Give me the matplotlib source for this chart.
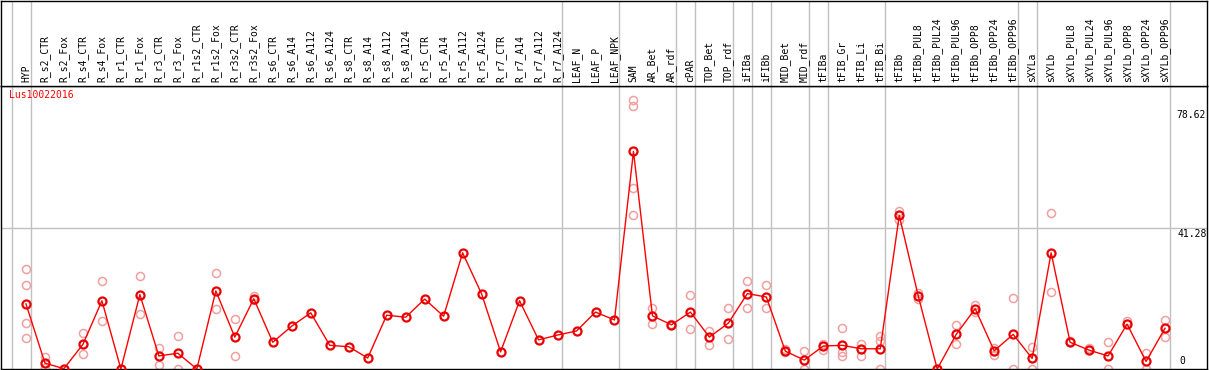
import matplotlib
matplotlib.use("Agg")
import matplotlib.pyplot as plt
import matplotlib.transforms as mtransforms
import numpy as np

labels = ['HYP', 'R_s2_CTR', 'R_s2_Fox', 'R_s4_CTR', 'R_s4_Fox', 'R_r1_CTR', 'R_r1_Fox',
          'R_r3_CTR', 'R_r3_Fox', 'R_r1s2_CTR', 'R_r1s2_Fox', 'R_r3s2_CTR', 'R_r3s2_Fox',
          'R_s6_CTR', 'R_s6_A14', 'R_s6_A112', 'R_s6_A124', 'R_s8_CTR', 'R_s8_A14',
          'R_s8_A112', 'R_s8_A124', 'R_r5_CTR', 'R_r5_A14', 'R_r5_A112', 'R_r5_A124',
          'R_r7_CTR', 'R_r7_A14', 'R_r7_A112', 'R_r7_A124', 'LEAF_N', 'LEAF_P', 'LEAF_NPK',
          'SAM', 'AR_Bet', 'AR_rdf', 'cPAR', 'TOP_Bet', 'TOP_rdf', 'iFIBa', 'iFIBb',
          'MID_Bet', 'MID_rdf', 'tFIBa', 'tFIB_Gr', 'tFIB_Li', 'tFIB_Bi', 'tFIBb',
          'tFIBb_PUL8', 'tFIBb_PUL24', 'tFIBb_PUL96', 'tFIBb_OPP8', 'tFIBb_OPP24',
          'tFIBb_OPP96', 'sXYLa', 'sXYLb', 'sXYLb_PUL8', 'sXYLb_PUL24', 'sXYLb_PUL96',
          'sXYLb_OPP8', 'sXYLb_OPP24', 'sXYLb_OPP96']

means = [19.0, 1.7, 0.1, 7.2, 19.9, 0.0, 21.7, 3.8, 4.6, 0.0, 22.8, 9.3, 20.5,
         7.8, 12.5, 16.4, 6.9, 6.5, 3.2, 15.7, 15.1, 20.4, 15.4, 33.9, 21.9,
         5.0, 19.9, 8.5, 9.9, 11.1, 16.6, 14.3,
         63.5, 15.5, 12.9, 16.6, 9.3, 13.4, 22.0, 21.0, 5.2, 2.6, 6.7, 6.9, 5.9, 5.9,
         44.8, 21.3, 0.0, 10.1, 17.6, 5.3, 10.1, 3.1, 33.9, 7.8, 5.5, 3.8, 13.1, 2.2, 11.9]

replicates = [[29.2, 24.6, 13.4, 9.1], [3.5, 0.3], [], [10.5, 4.3], [25.8, 14.1], [],
              [27.1, 16.0], [6.1, 1.1], [9.6, 0.0], [], [28.1, 17.5], [14.5, 3.8],
              [21.2, 20.2],
              [], [], [], [], [], [], [], [], [], [], [], [], [], [], [], [], [], [], [],
              [78.62, 76.6, 52.9, 44.8], [17.8, 13.1], [13.0, 12.8], [21.6, 11.6],
              [11.1, 7.1], [17.8, 8.7], [25.7, 17.8], [24.5, 17.8], [5.8, 5.0],
              [5.2, 0.0], [7.3, 5.6], [11.9, 5.1, 3.9], [7.3, 3.9], [9.5, 8.1, 0.0],
              [46.0, 43.6], [22.2, 20.5], [], [12.8, 7.2], [18.8, 16.5], [6.2, 4.1],
              [20.7, 0.0], [6.4, 0.0], [45.6, 22.5], [8.3], [6.1], [7.8, 0.0], [13.9],
              [4.6, 0.0], [14.2, 9.3]]

# group separators sit just after these categories
separators = [-1, 0, 28, 31, 34, 35, 37, 38, 39, 41, 42, 45, 52, 53, 60]

gene = 'Lus10022016'
y_max = 82.56
y_mid = 41.28
data_max = 78.62

W, H = 1209, 370
fig = plt.figure(figsize=(W / 100, H / 100), dpi=100)
mono = 'DejaVu Sans Mono'
fs = 7

x = np.arange(len(labels))
xlim = ((1 - 26) / 19, (1208 - 26) / 19)

ax = fig.add_axes([1 / W, 1 / H, 1206 / W, 283 / H])
axh = fig.add_axes([1 / W, 284 / H, 1206 / W, 85.5 / H])

for a in (ax, axh):
    a.set_xlim(*xlim)
    a.set_xticks([])
    a.set_yticks([])
    for s in a.spines.values():
        s.set_color('black')
        s.set_linewidth(1)
    for sep in separators:
        a.axvline(sep + 0.25, color='#c0c0c0', lw=1, zorder=0)

ax.set_ylim(0, y_max)
ax.axhline(y_mid, color='#c0c0c0', lw=1, zorder=0)

for i, reps in enumerate(replicates):
    if reps:
        ax.plot([i] * len(reps), reps, 'o', mfc='none', mec='#f0a0a0', ms=5.8, mew=1.1, zorder=2)

ax.plot(x, means, '-', color='#ff0000', lw=1, zorder=3)
ax.plot(x, means, 'o', mfc='none', mec='#e80000', ms=5.8, mew=1.6, zorder=4)

ax.text(0.007, 0.967, gene, transform=ax.transAxes, color='red', fontsize=fs,
        family=mono, va='center', ha='left')

tr = mtransforms.blended_transform_factory(ax.transAxes, ax.transData)
xr = (1177 - 1) / 1206
ax.text(xr, data_max, '78.62', transform=tr + mtransforms.ScaledTranslation(-1 / 100, -15 / 100, fig.dpi_scale_trans),
        fontsize=fs, family=mono, va='center', ha='left')
ax.text(xr, y_mid, '41.28', transform=tr + mtransforms.ScaledTranslation(0, -1 / 100, fig.dpi_scale_trans),
        fontsize=fs, family=mono, va='top', ha='left', bbox=dict(fc='white', ec='none', pad=0))
ax.text(xr + 2 / 1206, 0, '0', transform=tr + mtransforms.ScaledTranslation(0, 3 / 100, fig.dpi_scale_trans),
        fontsize=fs, family=mono, va='bottom', ha='left')

trh = mtransforms.blended_transform_factory(axh.transData, axh.transAxes)
for i, lab in enumerate(labels):
    axh.text(i, 4 / 85.5, lab, transform=trh, rotation=90, ha='center', va='bottom',
             fontsize=fs, family=mono)

fig.savefig('out.png', dpi=100)
